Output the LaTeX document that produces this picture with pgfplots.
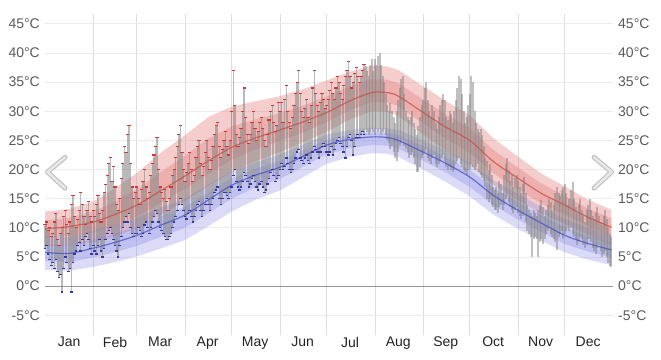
\documentclass[border=0pt]{standalone}
\usepackage{fontspec}
\setmainfont{Liberation Sans}
\usepackage{pgfplots}
\usepackage{pgfplotstable}
\pgfplotsset{compat=1.18}
\usepgfplotslibrary{fillbetween}

\definecolor{hiband}{RGB}{230,135,135}
\definecolor{loband}{RGB}{135,135,228}
\definecolor{hiline}{RGB}{195,80,70}
\definecolor{loline}{RGB}{70,80,195}
\definecolor{obs}{RGB}{130,130,130}
\definecolor{tickc}{RGB}{90,90,90}
\definecolor{monthc}{RGB}{35,35,35}
\definecolor{vgrid}{RGB}{222,222,222}
\definecolor{hgrid}{RGB}{236,236,236}
\definecolor{zerol}{RGB}{150,150,150}
\definecolor{reddash}{RGB}{210,55,55}
\definecolor{bluedot}{RGB}{55,55,160}
\definecolor{chevo}{RGB}{190,190,190}
\definecolor{chevi}{RGB}{232,232,232}

\pgfplotstableread[row sep=\\]{
d hi hi10 hi25 hi75 hi90 lo lo10 lo25 lo75 lo90\\
0 9.8 6.8 8.3 11.3 12.8 5.8 2.8 4.3 7.2 8.6\\
15 10.2 7.0 8.6 11.7 13.2 5.6 2.6 4.1 7.0 8.4\\
31 11.0 7.5 9.2 12.8 14.5 6.5 3.3 4.9 8.0 9.5\\
45 12.3 8.5 10.4 14.5 16.8 7.5 4.1 5.8 9.0 10.5\\
59 13.9 9.9 11.9 16.6 19.4 8.7 5.1 6.9 10.2 11.7\\
74 16.3 12.1 14.2 19.5 22.8 10.4 6.4 8.4 11.9 13.4\\
90 18.9 14.6 16.7 22.4 25.9 12.2 7.9 10.0 13.6 15.0\\
105 21.5 17.2 19.3 25.3 29.0 14.8 10.3 12.5 16.1 17.4\\
120 23.8 19.6 21.7 27.4 30.8 17.3 12.8 15.0 18.5 19.7\\
135 25.4 21.4 23.4 28.6 31.7 19.0 14.8 16.9 20.1 21.2\\
151 26.8 23.0 24.9 29.7 32.6 20.4 16.4 18.4 21.5 22.6\\
166 28.2 24.7 26.4 31.0 33.8 22.3 18.7 20.5 23.3 24.3\\
181 29.8 26.5 28.1 32.5 35.3 24.2 21.0 22.6 25.1 26.0\\
196 31.8 28.6 30.2 34.3 36.8 25.2 22.2 23.7 26.0 26.8\\
210 33.2 30.0 31.6 35.5 37.8 25.6 22.8 24.2 26.4 27.2\\
220 33.2 29.9 31.5 35.4 37.7 25.5 22.7 24.1 26.3 27.1\\
227 32.6 29.2 30.9 34.8 37.1 25.0 22.2 23.6 25.9 26.8\\
243 29.8 26.0 27.9 32.0 34.3 23.0 20.0 21.5 24.0 25.0\\
258 27.2 23.2 25.2 29.4 31.7 21.0 17.8 19.4 22.1 23.2\\
273 25.0 20.8 22.9 27.1 29.3 18.7 15.4 17.0 19.9 21.1\\
288 21.4 17.4 19.4 23.4 25.4 15.6 12.3 13.9 16.9 18.2\\
304 18.5 14.7 16.6 20.3 22.2 13.0 9.8 11.4 14.4 15.8\\
319 15.9 12.4 14.1 17.6 19.3 10.8 7.8 9.3 12.2 13.6\\
334 13.9 10.7 12.3 15.5 17.1 8.7 5.8 7.2 10.1 11.5\\
349 11.8 8.8 10.3 13.3 14.8 7.3 4.5 5.9 8.6 10.0\\
364 10.1 7.1 8.6 11.6 13.1 6.2 3.6 4.9 7.5 8.8\\
}\bands

\pgfplotstableread[row sep=\\]{
d h l\\
0 10.5 6.5\\ 1 11 7\\ 2 9.5 5.5\\ 3 10 4.5\\ 4 8.5 3.5\\ 5 9 4\\ 6 11 3\\ 7 12.5 4.5\\ 8 8 2.5\\ 9 7 1.5\\
10 9 2\\ 11 10 -1\\ 12 12 3\\ 13 13 5\\ 14 10.5 4\\ 15 9 2.5\\ 16 11 3\\ 17 14 -1\\ 18 15.5 4\\ 19 12 5.5\\
20 10 6\\ 21 11.5 7\\ 22 13 7.5\\ 23 16 6\\ 24 14 8\\ 25 12 7\\ 26 10.5 8.5\\ 27 13 9\\ 28 14.5 8\\ 29 12 6.5\\
30 11 5.5\\ 31 13 7\\ 32 12 6\\ 33 14 5.5\\ 34 15.5 7\\ 35 12.5 8\\ 36 11 6\\ 37 13 5\\ 38 16 6.5\\ 39 17.5 8\\
40 19 9\\ 41 21 9.5\\ 42 22 10\\ 43 18 9\\ 44 20.5 8\\ 45 17 7\\ 46 14 6\\ 47 13 5\\ 48 15 7\\ 49 18.5 8.5\\
50 21 10\\ 51 24 11\\ 52 23 12\\ 53 26 11\\ 54 27.5 12.5\\ 55 21 10\\ 56 17 9\\ 57 15 8.5\\ 58 16 9\\ 59 17 9\\
60 15 10\\ 61 14 9.5\\ 62 16.5 8.5\\ 63 18 9\\ 64 20 10.5\\ 65 17 11\\ 66 15 10\\ 67 16 9\\ 68 19 10\\ 69 21 11\\
70 22.5 12\\ 71 24 13\\ 72 25.5 12.5\\ 73 20 11\\ 74 17 10\\ 75 16 9.5\\ 76 15 9\\ 77 16.5 8.5\\ 78 14.5 8\\ 79 13 8\\
80 15 8.5\\ 81 17 9\\ 82 19 10\\ 83 20 11\\ 84 22 12\\ 85 24 13\\ 86 26 14\\ 87 27.5 15\\ 88 23 14\\ 89 20 13\\
90 18 12\\ 91 19.5 11.5\\ 92 21 12.5\\ 93 23 13\\ 94 20 12\\ 95 18 11\\ 96 19 12\\ 97 22 13\\ 98 24 14\\ 99 25 14.5\\
100 21 13\\ 101 19 12\\ 102 20.5 13\\ 103 23 14\\ 104 25 15\\ 105 22 14\\ 106 20 13\\ 107 21.5 14\\ 108 24 15\\ 109 26 16\\
110 27.5 16.5\\ 111 28 17\\ 112 24 15\\ 113 22 14\\ 114 23.5 15\\ 115 25 16\\ 116 26.5 16\\ 117 24 15.5\\ 118 22.5 15\\ 119 25 16\\
120 30 17\\ 121 37 19\\ 122 31 20\\ 123 26 18\\ 124 24 17\\ 125 25.5 16.5\\ 126 27 17\\ 127 30 18\\ 128 34 19.5\\ 129 29 19\\
130 26 18\\ 131 24.5 17\\ 132 26 17.5\\ 133 28 18.5\\ 134 30 19\\ 135 27 18\\ 136 25 17\\ 137 26.5 16.5\\ 138 28 17.5\\ 139 29 18\\
140 27 17\\ 141 25 16\\ 142 24 16.5\\ 143 26 17.5\\ 144 28.5 18.5\\ 145 30 19.5\\ 146 31 20\\ 147 28 19\\ 148 26.5 18\\ 149 27.5 18.5\\
150 31.5 19\\ 151 30 20\\ 152 31.5 21\\ 153 28 20\\ 154 32 20.5\\ 155 34.5 22\\ 156 30 21\\ 157 28 20\\ 158 27 19.5\\ 159 29 20\\
160 31 21\\ 161 33 22\\ 162 35 23\\ 163 37 23.5\\ 164 33 22\\ 165 30 21.5\\ 166 29 21\\ 167 30.5 22\\ 168 32 22.5\\ 169 29 21.5\\
170 28 21\\ 171 31 22\\ 172 34 23\\ 173 37 24\\ 174 33 23.5\\ 175 31 23\\ 176 30 22\\ 177 31.5 23\\ 178 33 24\\ 179 32 24.5\\
180 30.5 24\\ 181 31 23\\ 182 32 22.5\\ 183 33.5 23\\ 184 35 24\\ 185 33 22.5\\ 186 32 23.5\\ 187 34 24.5\\ 188 36 25\\ 189 35 25.5\\
190 33 24.5\\ 191 32 24\\ 192 34.5 23\\ 193 36 22\\ 194 37 24\\ 195 38.5 25.5\\ 196 36 26\\ 197 34 25\\ 198 35 22.5\\ 199 36.5 24\\
200 37.5 25.5\\ 201 36 26\\ 202 35 25.5\\ 203 36 26\\ 204 37 26.5\\ 205 38 26\\ 206 37.8 27\\ 207 37 26.5\\ 208 36 26\\ 209 38 26.5\\
210 39 27\\ 211 37 26.5\\ 212 39 26\\ 213 38 27\\ 214 39.5 26.5\\ 215 40 27\\ 216 38 26\\ 217 36 26.5\\ 218 35 27\\ 219 33 26\\
220 31 25\\ 221 30 24.5\\ 222 31.5 23.5\\ 223 30 24\\ 224 29 23\\ 225 28 22\\ 226 30 21.5\\ 227 32 23\\ 228 34 24\\ 229 35.5 24.5\\
230 36 25\\ 231 33 24\\ 232 30 23.5\\ 233 29 23\\ 234 28.5 22\\ 235 29 22.5\\ 236 30 23\\ 237 28 22\\ 238 27 21\\ 239 26 19.5\\
240 27.5 19.5\\ 241 29 20.5\\ 242 31 22\\ 243 32 22.5\\ 244 34 23\\ 245 35 23.5\\ 246 32 22\\ 247 30 21.5\\ 248 29 21\\ 249 31 22\\
250 30 22.5\\ 251 28 21\\ 252 27 20.5\\ 253 29 21\\ 254 31 21.5\\ 255 32 22\\ 256 33 22.5\\ 257 32 21.5\\ 258 29 20.5\\ 259 28.5 20\\
260 30 20.5\\ 261 29.5 20\\ 262 28 19.5\\ 263 30 20\\ 264 32 21\\ 265 34 21.5\\ 266 36 22\\ 267 35.5 21\\ 268 33 20.5\\ 269 30 20\\
270 28 19.5\\ 271 29 19\\ 272 31 20\\ 273 33 20\\ 274 36 21\\ 275 35 20.5\\ 276 30 20\\ 277 28 20.5\\ 278 27 21\\ 279 26.5 19.5\\
280 27 19\\ 281 26 18.5\\ 282 24 18\\ 283 22 17\\ 284 21.5 15\\ 285 20 14.5\\ 286 21 15\\ 287 19 14\\ 288 17 13.5\\ 289 16.5 13\\
290 17 13\\ 291 16 12.5\\ 292 18 13.5\\ 293 17.5 14\\ 294 16 13\\ 295 19 14\\ 296 21 15\\ 297 22 15.5\\ 298 20 14.5\\ 299 18 13.5\\
300 19 13\\ 301 17 12.5\\ 302 18.5 13\\ 303 19 13.5\\ 304 18 12.5\\ 305 17 12\\ 306 16 11.5\\ 307 17.5 12\\ 308 18.7 12.5\\ 309 16 11\\
310 14 9.5\\ 311 13 9\\ 312 12.5 8.5\\ 313 12 5\\ 314 13 8\\ 315 12.5 8.5\\ 316 12 8\\ 317 13 5\\ 318 14 7.5\\ 319 14.7 8\\
320 13.5 7.3\\ 321 12 8\\ 322 13 9\\ 323 14 9.5\\ 324 15 10\\ 325 14.5 9\\ 326 13 8.5\\ 327 14 8\\ 328 16 7.5\\ 329 17 6.2\\
330 16 8.5\\ 331 15.5 9\\ 332 16.5 9.5\\ 333 17 8\\ 334 17.5 9\\ 335 16 9.5\\ 336 14 10\\ 337 15 9.5\\ 338 16.5 10\\ 339 17.9 9\\
340 15 8.5\\ 341 13.5 8\\ 342 12.5 7\\ 343 14 7.5\\ 344 15 8.5\\ 345 13 8\\ 346 12 7\\ 347 11 6.5\\ 348 13 7\\ 349 14 8\\
350 15 8\\ 351 13 7.5\\ 352 12 6.5\\ 353 11.5 6\\ 354 12.5 5.5\\ 355 13.5 6.5\\ 356 12 7\\ 357 11 6\\ 358 10.5 5\\ 359 12 5.5\\
360 13 6\\ 361 11.5 5\\ 362 10 4\\ 363 9 3.5\\ 364 8.5 3.2\\
}\daily

\begin{document}
\begin{tikzpicture}
\begin{axis}[
  name=ax,
  scale only axis, width=568pt, height=321pt,
  xmin=0, xmax=365, ymin=-8.4, ymax=46.7,
  clip=false,
  axis line style={draw=none},
  major tick length=0pt, minor tick length=0pt,
  /pgf/number format/assume math mode=true,
  ytick={-5,0,5,10,15,20,25,30,35,40,45},
  yticklabel={\pgfmathprintnumber{\tick}°C},
  yticklabel style={font=\fontsize{14}{16}\selectfont, text=tickc, inner sep=0pt, xshift=-5pt},
  xtick={15.5,45,74,104.5,135,165.5,196,227,257.5,288,318.5,349},
  xticklabels={Jan,Feb,Mar,Apr,May,Jun,Jul,Aug,Sep,Oct,Nov,Dec},
  xticklabel style={font=\fontsize{14}{16}\selectfont, text=monthc, inner sep=0pt, yshift=-2pt},
  minor xtick={31,59,90,120,151,181,212,243,273,304,334},
  xmajorgrids=false, xminorgrids=true, ymajorgrids=true,
  minor grid style={vgrid, line width=0.8pt},
  major grid style={hgrid, line width=0.8pt},
  extra y ticks={0},
  extra y tick labels={},
  extra y tick style={yticklabel={}, major grid style={zerol, line width=0.9pt}},
]
\coordinate (bl) at (rel axis cs:0,0);
\coordinate (tr) at (rel axis cs:1,1);

% high temperature bands
\addplot[draw=none, name path=h90, forget plot] table[x=d, y=hi90]{\bands};
\addplot[draw=none, name path=h10, forget plot] table[x=d, y=hi10]{\bands};
\addplot[draw=none, name path=h75, forget plot] table[x=d, y=hi75]{\bands};
\addplot[draw=none, name path=h25, forget plot] table[x=d, y=hi25]{\bands};
\addplot[hiband, fill opacity=0.42, forget plot] fill between[of=h90 and h10];
\addplot[hiband, fill opacity=0.42, forget plot] fill between[of=h75 and h25];

% low temperature bands
\addplot[draw=none, name path=l90, forget plot] table[x=d, y=lo90]{\bands};
\addplot[draw=none, name path=l10, forget plot] table[x=d, y=lo10]{\bands};
\addplot[draw=none, name path=l75, forget plot] table[x=d, y=lo75]{\bands};
\addplot[draw=none, name path=l25, forget plot] table[x=d, y=lo25]{\bands};
\addplot[loband, fill opacity=0.30, forget plot] fill between[of=l90 and l10];
\addplot[loband, fill opacity=0.30, forget plot] fill between[of=l75 and l25];

% observed daily ranges
\addplot[draw=none, no markers, forget plot, restrict x to domain=0:205,
  error bars/.cd, y dir=both, y explicit, error mark=none,
  error bar style={line width=1.4pt, color=obs, opacity=0.55}]
  table[x=d, y expr={(\thisrow{h}+\thisrow{l})/2}, y error expr={(\thisrow{h}-\thisrow{l})/2}]{\daily};
\addplot[draw=none, no markers, forget plot, restrict x to domain=206:364,
  error bars/.cd, y dir=both, y explicit, error mark=none,
  error bar style={line width=2.0pt, color=obs, opacity=0.5}]
  table[x=d, y expr={(\thisrow{h}+\thisrow{l})/2}, y error expr={(\thisrow{h}-\thisrow{l})/2}]{\daily};

% average lines
\addplot[hiline, line width=1.2pt, opacity=0.75, smooth, forget plot] table[x=d, y=hi]{\bands};
\addplot[loline, line width=1.2pt, opacity=0.75, smooth, forget plot] table[x=d, y=lo]{\bands};

% daily highs and lows
\addplot[only marks, mark=-, mark size=1.6pt, color=reddash, mark options={line width=1.1pt}, restrict x to domain=0:205, forget plot]
  table[x=d, y=h]{\daily};
\addplot[only marks, mark=-, mark size=1.3pt, color=bluedot, mark options={line width=1.3pt}, restrict x to domain=0:205, forget plot]
  table[x=d, y=l]{\daily};

% navigation chevrons
\draw[draw=chevo, double=chevi, double distance=2.6pt, line width=1.1pt, line cap=round, line join=round]
  (axis cs:12.9,22.1) -- (axis cs:1.6,19.58) -- (axis cs:12.9,16.8);
\draw[draw=chevo, double=chevi, double distance=2.6pt, line width=1.1pt, line cap=round, line join=round]
  (axis cs:352.8,22.1) -- (axis cs:364.1,19.58) -- (axis cs:352.8,16.8);
\end{axis}

\begin{axis}[
  at={(ax.south west)}, anchor=south west,
  scale only axis, width=568pt, height=321pt,
  xmin=0, xmax=365, ymin=-8.4, ymax=46.7,
  axis line style={draw=none},
  major tick length=0pt,
  /pgf/number format/assume math mode=true,
  xtick=\empty,
  ytick={-5,0,5,10,15,20,25,30,35,40,45},
  yticklabel pos=right,
  yticklabel={\pgfmathprintnumber{\tick}°C},
  yticklabel style={font=\fontsize{14}{16}\selectfont, text=tickc, inner sep=0pt, xshift=5pt},
]
\end{axis}

\pgfresetboundingbox
\path (bl) ++(-45pt,-24pt) rectangle ([shift={(48pt,14pt)}]tr);
\end{tikzpicture}
\end{document}
